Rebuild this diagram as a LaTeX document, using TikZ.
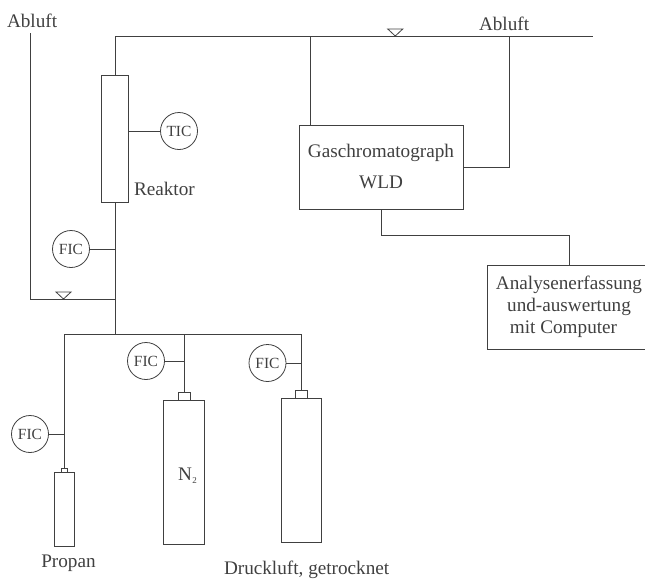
\documentclass[tikz,border=0pt]{standalone}
\usepackage{fontspec}
\setmainfont{Liberation Serif}
\definecolor{ink}{HTML}{404040}
\tikzset{
  pipe/.style={draw=ink,line width=0.9pt},
  vessel/.style={draw=ink,line width=0.9pt,rectangle,minimum size=0pt,inner sep=0pt,outer sep=0pt},
  instr/.style={draw=ink,line width=0.8pt,circle,minimum size=37pt,inner sep=0pt,outer sep=0pt,text=ink,font=\fontsize{15.5}{15.5}\selectfont},
  lab/.style={text=ink,inner sep=0pt,outer sep=0pt,font=\fontsize{19.2}{19.2}\selectfont,anchor=base},
  valve/.style={draw=ink,line width=0.8pt}
}
\newcommand{\bx}[5]{\node[vessel,minimum width=#4pt,minimum height=#5pt] (#1) at (#2,#3) {};}
\begin{document}
\begin{tikzpicture}[x=1pt,y=-1pt]
\useasboundingbox (0,0) rectangle (645,579);
% vessels
\bx{reaktor}{115}{138.5}{27}{127}
\bx{gc}{381}{167.25}{164}{83.5}
\bx{pbottle}{64.25}{509}{20.5}{74}
\bx{pcap}{64.25}{470}{6.5}{4}
\bx{nbottle}{183.75}{472}{40.5}{144}
\bx{ncap}{184}{396.25}{12}{7.5}
\bx{dbottle}{301.5}{470}{40}{144}
\bx{dcap}{301.5}{394.25}{12}{7.5}
% computer box, open on the picture's edge
\coordinate (boxtl) at (487.5,265);
\coordinate (boxtr) at (645,265);
\coordinate (boxbl) at (487.5,349);
\coordinate (boxbr) at (645,349);
\draw[pipe] (boxtr) -- (boxtl) -- (boxbl) -- (boxbr);
% instruments
\node[instr] (tic) at (179,131) {TIC};
\node[instr] (fic1) at (71,249) {FIC};
\node[instr] (fic2) at (30,434) {FIC};
\node[instr] (fic3) at (146,361) {FIC};
\node[instr] (fic4) at (267.5,363) {FIC};
% coordinates
\coordinate (ab) at (30,33);
\coordinate (c1) at (30,299);
\coordinate (j1) at (115,299);
\coordinate (j2) at (115,334);
\coordinate (top) at (115,36);
\coordinate (topend) at (593,36);
\coordinate (t1) at (310,36);
\coordinate (t2) at (509,36);
\coordinate (gctop) at (310,125.5);
\coordinate (gcr) at (509,167);
\coordinate (l1) at (64,334);
\coordinate (l2) at (184,334);
\coordinate (l3) at (301.5,334);
\coordinate (g1) at (381,235);
\coordinate (g2) at (569,235);
\coordinate (boxin) at (569,265);
% pipes
\draw[pipe] (ab) -- (c1) -- (j1);
\draw[pipe] (reaktor.north) -- (top) -- (topend);
\draw[pipe] (t1) -- (gctop);
\draw[pipe] (t2) -- (gcr) -- (gcr -| gc.east);
\draw[pipe] (reaktor.south) -- (j2);
\draw[pipe] (l1) -- (l3) -- (dcap.north);
\draw[pipe] (l1) -- (pcap.north -| l1);
\draw[pipe] (l2) -- (ncap.north);
\draw[pipe] (gc.south) -- (g1) -- (g2) -- (boxin);
\draw[pipe] (tic.west) -- (tic.west -| reaktor.east);
\draw[pipe] (fic1.east) -- (fic1.east -| j1);
\draw[pipe] (fic2.east) -- (fic2.east -| l1);
\draw[pipe] (fic3.east) -- (fic3.east -| l2);
\draw[pipe] (fic4.east) -- (fic4.east -| l3);
% level marks
\coordinate (v1) at (63.5,299);
\coordinate (v2) at (395.25,36);
\draw[valve] (v1) -- ++(-7.5,-7) -- ++(15,0) -- cycle;
\draw[valve] (v2) -- ++(-7.5,-7) -- ++(15,0) -- cycle;
% labels
\node[lab,anchor=base west] (t-ab1) at (7,27) {Abluft};
\node[lab,anchor=base west] (t-ab2) at (479,30) {Abluft};
\node[lab,anchor=base west] (t-re) at (134,195) {Reaktor};
\node[lab] (t-gc) at (381,157) {Gaschromatograph};
\node[lab] (t-wld) at (381,188) {WLD};
\node[lab] (t-an) at (569,289) {Analysenerfassung};
\node[lab] (t-un) at (569,311) {und-auswertung};
\node[lab] (t-mi) at (563.5,333) {mit Computer};
\node[lab] (t-pr) at (68.5,567) {Propan};
\node[lab,anchor=base west] (t-n2) at (178,480) {N\kern0.5pt\raisebox{-3pt}{\fontsize{9}{9}\selectfont 2}};
\node[lab,anchor=base west] (t-dr) at (224,574.5) {Druckluft, getrocknet};
\end{tikzpicture}
\end{document}
